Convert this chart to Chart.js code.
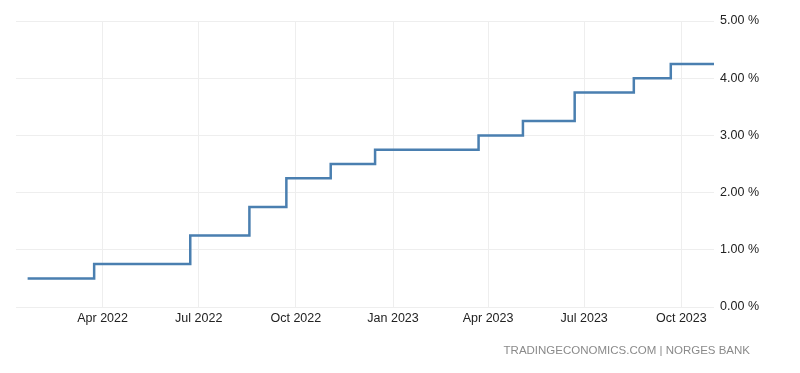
<!DOCTYPE html>
<html>
<head>
<meta charset="utf-8">
<script src="https://cdn.jsdelivr.net/npm/chart.js@4.4.0/dist/chart.umd.min.js"></script>
<style>
  html, body { margin: 0; padding: 0; background: #fff; }
  #wrap { position: relative; width: 800px; height: 373px; }
  #source { position: absolute; right: 50px; top: 344px; font: 11.5px "Liberation Sans", Arial, sans-serif; color: #8a8a8a; }
</style>
</head>
<body>
<div id="wrap">
  <canvas id="c" width="800" height="373"></canvas>
  <div id="source">TRADINGECONOMICS.COM | NORGES BANK</div>
</div>
<script>
// Data: rate change dates and policy rate values (%)
const changeDates = ['2022-01-20','2022-03-24','2022-06-23','2022-08-18','2022-09-22','2022-11-03','2022-12-15','2023-03-23','2023-05-04','2023-06-22','2023-08-17','2023-09-21','2023-11-01'];
const rates =       [0.50,        0.75,        1.25,        1.75,        2.25,        2.50,        2.75,        3.00,        3.25,        3.75,        4.00,        4.25,        4.25];
const tickDates = ['2022-04-01','2022-07-01','2022-10-01','2023-01-01','2023-04-01','2023-07-01','2023-10-01'];
const tickLabels = ['Apr 2022','Jul 2022','Oct 2022','Jan 2023','Apr 2023','Jul 2023','Oct 2023'];
const xStart = '2022-01-09';
const xEnd = '2023-11-01';

const toDay = s => Date.parse(s + 'T00:00:00Z') / 86400000;
const points = changeDates.map((d, i) => ({ x: toDay(d), y: rates[i] }));
const tickVals = tickDates.map(toDay);

new Chart(document.getElementById('c'), {
  type: 'line',
  data: {
    datasets: [{
      data: points,
      stepped: 'before',
      borderColor: '#4a7fb0',
      borderWidth: 2.5,
      pointRadius: 0,
      fill: false
    }]
  },
  options: {
    responsive: false,
    animation: false,
    layout: { padding: { left: 16, right: 35, top: 21, bottom: 43 } },
    plugins: { legend: { display: false }, tooltip: { enabled: false } },
    scales: {
      x: {
        type: 'linear',
        min: toDay(xStart),
        max: toDay(xEnd),
        afterBuildTicks: axis => { axis.ticks = tickVals.map(v => ({ value: v })); },
        ticks: {
          callback: (v) => { const i = tickVals.indexOf(v); return i >= 0 ? tickLabels[i] : ''; },
          color: '#222',
          font: { family: 'Liberation Sans', size: 12.5 },
          maxRotation: 0,
          autoSkip: false,
          padding: 4
        },
        grid: { color: '#eeeeee', drawTicks: false },
        border: { display: false }
      },
      y: {
        position: 'right',
        min: 0,
        max: 5,
        ticks: {
          stepSize: 1,
          callback: v => v.toFixed(2) + ' %',
          color: '#222',
          font: { family: 'Liberation Sans', size: 12.5 },
          padding: 6
        },
        grid: { color: '#eeeeee', drawTicks: false },
        border: { display: false }
      }
    }
  }
});
</script>
</body>
</html>
